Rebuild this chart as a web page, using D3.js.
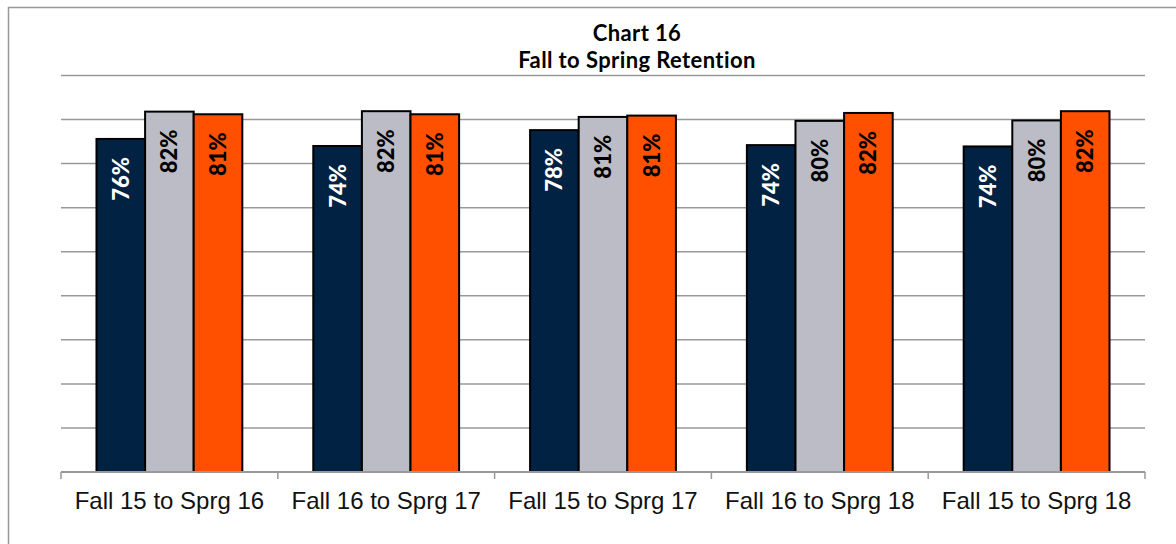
<!DOCTYPE html>
<html lang="en">
<head>
    <meta charset="UTF-8">
    <title>Chart 16 - Fall to Spring Retention</title>
    <script src="https://d3js.org/d3.v7.min.js"></script>
    <style>
        body { margin: 0; background: #fff; }
        .grid line { stroke: #999; stroke-width: 1.5px; }
        .bar { stroke: #000; stroke-width: 2px; }
        .val { font-family: Lato, "Open Sans", sans-serif; font-weight: 900; font-size: 22px; }
        .cat { font-family: "Liberation Sans", Arial, sans-serif; font-size: 24px; fill: #111; }
        .title { font-family: Lato, "Open Sans", sans-serif; font-weight: bold; font-size: 22px; letter-spacing: 0.4px; fill: #000; }
    </style>
</head>
<body>
<div id="chart"></div>
<script>
    // Data
    const categories = ["Fall 15 to Sprg 16", "Fall 16 to Sprg 17", "Fall 15 to Sprg 17", "Fall 16 to Sprg 18", "Fall 15 to Sprg 18"];
    const seriesNames = ["A", "B", "C"];
    const seriesA = [0.756, 0.740, 0.776, 0.742, 0.739];
    const seriesB = [0.818, 0.819, 0.806, 0.797, 0.798];
    const seriesC = [0.812, 0.812, 0.809, 0.815, 0.819];
    const yTicks = [0, 0.1, 0.2, 0.3, 0.4, 0.5, 0.6, 0.7, 0.8, 0.9];
    const colors = ["#012242", "#bcbcc6", "#ff5000"];
    const labelColors = ["#fff", "#000", "#000"];

    const W = 1176, H = 544;
    const plot = {left: 61, right: 1145, top: 75.5, bottom: 472};

    const svg = d3.select("#chart").append("svg")
        .attr("width", W)
        .attr("height", H);

    // outer frame (only left and top visible)
    svg.append("path")
        .attr("d", "M8.5," + (H + 5) + "V7.5H" + (W + 5))
        .attr("fill", "none")
        .attr("stroke", "#999")
        .attr("stroke-width", 1.5);

    const x = d3.scaleBand()
        .domain(categories)
        .range([plot.left, plot.right])
        .padding(0);

    const x1 = d3.scaleBand()
        .domain(seriesNames)
        .range([0, x.bandwidth()])
        .paddingInner(0)
        .paddingOuter(0.73);

    const y = d3.scaleLinear()
        .domain([0, 0.9])
        .range([plot.bottom, plot.top]);

    // gridlines
    svg.append("g")
        .attr("class", "grid")
        .selectAll("line")
        .data(yTicks.slice(1))
        .enter().append("line")
        .attr("x1", plot.left)
        .attr("x2", plot.right)
        .attr("y1", d => y(d))
        .attr("y2", d => y(d));

    const rows = categories.map((c, i) => ({cat: c, vals: [seriesA[i], seriesB[i], seriesC[i]]}));

    const groups = svg.selectAll(".group")
        .data(rows)
        .enter().append("g")
        .attr("transform", d => "translate(" + x(d.cat) + ",0)");

    groups.selectAll("rect")
        .data(d => d.vals.map((v, j) => ({v: v, s: seriesNames[j], j: j})))
        .enter().append("rect")
        .attr("class", "bar")
        .attr("x", d => x1(d.s))
        .attr("width", x1.bandwidth())
        .attr("y", d => y(d.v))
        .attr("height", d => y(0) - y(d.v))
        .attr("fill", d => colors[d.j]);

    groups.selectAll("text")
        .data(d => d.vals.map((v, j) => ({v: v, s: seriesNames[j], j: j})))
        .enter().append("text")
        .attr("class", "val")
        .attr("transform", d => "translate(" + (x1(d.s) + x1.bandwidth() / 2) + "," + (y(d.v) + 18) + ") rotate(-90)")
        .attr("text-anchor", "end")
        .attr("dy", "0.36em")
        .attr("fill", d => labelColors[d.j])
        .text(d => Math.round(d.v * 100) + "%");

    // x axis
    const xAxis = svg.append("g")
        .attr("transform", "translate(0," + plot.bottom + ")");
    xAxis.append("line")
        .attr("x1", plot.left).attr("x2", plot.right)
        .attr("stroke", "#999").attr("stroke-width", 2);
    xAxis.selectAll(".tick")
        .data(categories.map(c => x(c)).concat([plot.right]))
        .enter().append("line")
        .attr("x1", d => d).attr("x2", d => d)
        .attr("y1", 0).attr("y2", 7)
        .attr("stroke", "#999").attr("stroke-width", 1.5);
    xAxis.selectAll(".cat")
        .data(categories)
        .enter().append("text")
        .attr("class", "cat")
        .attr("x", d => x(d) + x.bandwidth() / 2)
        .attr("y", 37)
        .attr("text-anchor", "middle")
        .text(d => d);

    // title
    svg.append("text").attr("class", "title")
        .attr("x", 637).attr("y", 41)
        .attr("text-anchor", "middle").text("Chart 16");
    svg.append("text").attr("class", "title")
        .attr("x", 637).attr("y", 68)
        .attr("text-anchor", "middle").text("Fall to Spring Retention");
</script>
</body>
</html>
